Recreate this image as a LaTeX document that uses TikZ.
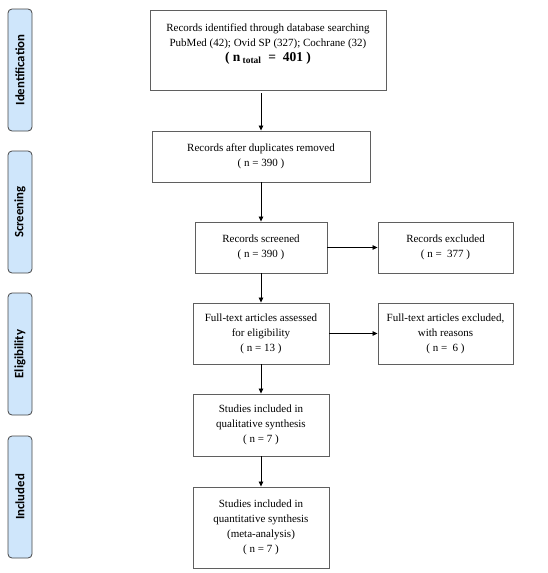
\documentclass[tikz,border=0pt]{standalone}
\usepackage{fontspec}
\setmainfont{Liberation Serif}
\newfontfamily\phasefont{Carlito}
\usetikzlibrary{arrows.meta}
\definecolor{rahmen}{RGB}{95,95,95}
\definecolor{phasefill}{RGB}{207,230,251}
\definecolor{phaseline}{RGB}{70,70,70}

\begin{document}
\begin{tikzpicture}[x=1pt,y=-1pt,
    box/.style={draw=rahmen, line width=0.9pt, align=center, inner sep=2pt,
        font=\fontsize{11}{15}\selectfont},
    phase/.style={draw=phaseline, fill=phasefill, rounded corners=4pt, line width=0.8pt,
        minimum width=24pt, minimum height=122pt, inner sep=0pt},
    phasetext/.style={rotate=90, font=\phasefont\bfseries\fontsize{12.8}{14}\selectfont},
    pfeil/.style={draw=black, line width=0.8pt, -{Triangle[length=5pt,width=4.5pt]}}]
        \useasboundingbox (0,0) rectangle (548,573);
        % phases
        \node[phase] (P1) at (20,70) {};
        \node[phasetext] at (P1) {Identification};
        \node[phase] (P2) at (20,212) {};
        \node[phasetext] at (P2) {Screening};
        \node[phase] (P3) at (20,354) {};
        \node[phasetext] at (P3) {Eligibility};
        \node[phase] (P4) at (20,497) {};
        \node[phasetext] at (P4) {Included};
        % boxes
        \node[box, minimum width=236pt, minimum height=80pt] (ID) at (268,50)
            {Records identified through database searching\\
             PubMed (42); Ovid SP (327); Cochrane (32)\\
             {\fontsize{13.5}{16}\selectfont\bfseries ( n\,\textsubscript{total} \ = \ 401 )}\\[0pt]\mbox{}};
        \node[box, minimum width=218pt, minimum height=51pt] (DUP) at (261,156.5)
            {Records after duplicates removed\\( n = 390 )};
        \node[box, minimum width=132pt, minimum height=51pt] (SCR) at (261,247.5)
            {Records screened\\( n = 390 )};
        \node[box, minimum width=135pt, minimum height=51pt] (EX1) at (445.5,247.5)
            {Records excluded\\( n = \ 377 )};
        \node[box, minimum width=136pt, minimum height=61pt] (FT) at (261,333.5)
            {Full-text articles assessed\\for eligibility\\( n = 13 )};
        \node[box, minimum width=135pt, minimum height=61pt] (EX2) at (445.5,333.5)
            {Full-text articles excluded,\\with reasons\\( n = \ 6 )};
        \node[box, minimum width=136pt, minimum height=62pt] (QUAL) at (261,425)
            {Studies included in\\qualitative synthesis\\( n = 7 )};
        \node[box, minimum width=136pt, minimum height=81pt] (QUAN) at (261,527.5)
            {Studies included in\\quantitative synthesis\\(meta-analysis)\\( n = 7 )};
        % arrows
        \draw[pfeil] (ID.south -| DUP.north) ++(0,3) -- (DUP.north);
        \draw[pfeil] (DUP) -- (SCR);
        \draw[pfeil] (SCR) -- (EX1);
        \draw[pfeil] (SCR) -- (FT);
        \draw[pfeil] (FT) -- (EX2);
        \draw[pfeil] (FT) -- (QUAL);
        \draw[pfeil] (QUAL) -- (QUAN);
\end{tikzpicture}
\end{document}
